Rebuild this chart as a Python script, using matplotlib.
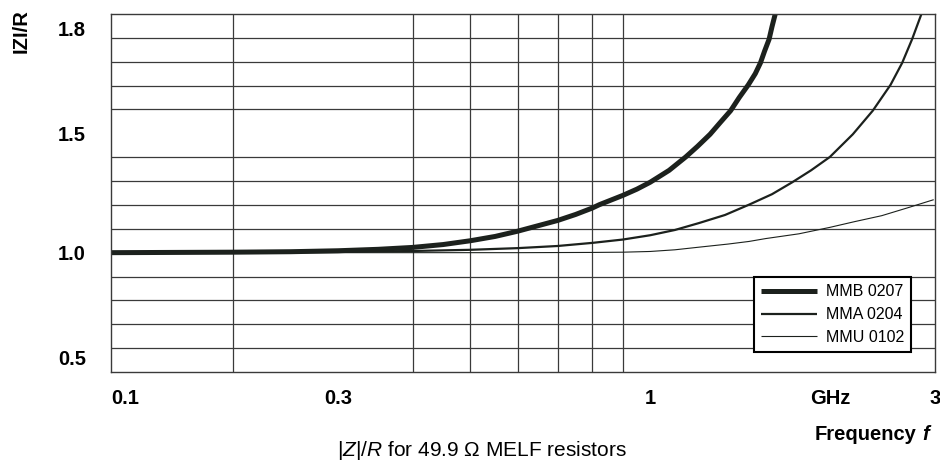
import numpy as np
import matplotlib
matplotlib.use('Agg')
import matplotlib.pyplot as plt

plt.rcParams['font.family'] = ['Liberation Sans', 'DejaVu Sans']
plt.rcParams['mathtext.fontset'] = 'custom'
plt.rcParams['mathtext.rm'] = 'Liberation Sans'
plt.rcParams['mathtext.it'] = 'Liberation Sans:italic'

# frequency in GHz, |Z|/R
mmb_f = [0.125, 0.2, 0.25, 0.3, 0.35, 0.4, 0.45, 0.5, 0.55, 0.6, 0.7, 0.75, 0.8,
         0.822, 0.9, 0.95, 1.0, 1.076, 1.147, 1.2, 1.26, 1.31, 1.364, 1.41,
         1.46, 1.50, 1.53, 1.555, 1.582, 1.60, 1.62]
mmb_z = [1.000, 1.002, 1.004, 1.008, 1.014, 1.022, 1.034, 1.050, 1.068, 1.090,
         1.135, 1.160, 1.187, 1.201, 1.240, 1.266, 1.295, 1.345, 1.401, 1.445,
         1.496, 1.545, 1.595, 1.650, 1.703, 1.750, 1.795, 1.845, 1.894, 1.947,
         2.000]

mma_f = [0.125, 0.3, 0.4, 0.5, 0.6, 0.7, 0.8, 0.9, 1.0, 1.1, 1.207, 1.335,
         1.464, 1.6, 1.73, 1.86, 2.0, 2.185, 2.36, 2.527, 2.643, 2.746, 2.847]
mma_z = [1.000, 1.003, 1.007, 1.012, 1.019, 1.028, 1.041, 1.055, 1.073, 1.095,
         1.124, 1.158, 1.201, 1.245, 1.295, 1.345, 1.401, 1.496, 1.595, 1.703,
         1.795, 1.894, 2.000]

mmu_f = [0.125, 0.6, 0.8, 0.9, 1.0, 1.1, 1.207, 1.35, 1.464, 1.561, 1.775, 2.0,
         2.2, 2.443, 2.7, 2.985]
mmu_z = [1.000, 1.000, 1.001, 1.002, 1.005, 1.012, 1.023, 1.036, 1.047, 1.059,
         1.079, 1.106, 1.130, 1.155, 1.188, 1.222]

series = [('MMB 0207', mmb_f, mmb_z, 3.6),
          ('MMA 0204', mma_f, mma_z, 1.6),
          ('MMU 0102', mmu_f, mmu_z, 0.8)]

x_ticks = [0.125, 0.3, 1, 2, 3]
x_labels = ['0.1', '0.3', '1', 'GHz', '3']
x_grid = [0.2, 0.3, 0.4, 0.5, 0.6, 0.7, 0.8, 0.9, 1, 2]
y_ticks = [0.56, 1.0, 1.5, 1.94]
y_labels = ['0.5', '1.0', '1.5', '1.8']
y_grid = np.arange(0.6, 2.0, 0.1)

line_col = '#1c211d'

fig = plt.figure(figsize=(9.4, 4.63), dpi=100)
ax = fig.add_axes([111 / 940, 1 - 372 / 463, 824 / 940, 358 / 463])

for name, f, z, lw in series:
    ax.plot(f, z, color=line_col, lw=lw, label=name, solid_capstyle='butt',
            solid_joinstyle='round')

ax.set_xscale('log')
ax.set_xlim(0.125, 3)
ax.set_ylim(0.5, 2.0)

ax.set_xticks(x_ticks)
ax.set_xticklabels(x_labels)
ax.xaxis.set_minor_locator(matplotlib.ticker.FixedLocator(x_grid))
ax.xaxis.set_minor_formatter(matplotlib.ticker.NullFormatter())
ax.set_yticks(y_ticks)
ax.set_yticklabels(y_labels)
ax.yaxis.set_minor_locator(matplotlib.ticker.FixedLocator(y_grid))

ax.grid(which='minor', color='#3a3a3a', lw=0.9)
ax.set_axisbelow(True)
ax.tick_params(which='both', length=0)
ax.tick_params(axis='x', pad=12, labelsize=14.5)
ax.tick_params(axis='y', pad=18, labelsize=14.5)
for lab in ax.get_xticklabels() + ax.get_yticklabels():
    lab.set_fontweight('bold')
ax.get_xticklabels()[0].set_ha('left')

for sp in ax.spines.values():
    sp.set_color('#3a3a3a')
    sp.set_linewidth(1.0)

leg = ax.legend(loc='lower right', bbox_to_anchor=(0.971, 0.056), borderaxespad=0,
                fontsize=11.5, handlelength=3.5, handletextpad=0.55, labelspacing=0.48,
                borderpad=0.45, fancybox=False, framealpha=1, edgecolor='black')
leg.get_frame().set_linewidth(1.5)

fig.text(21 / 940, 1 - 31 / 463, 'IZI/R', rotation=90, ha='center', va='center',
         fontweight='bold', fontsize=14.5)
fig.text(926 / 940, 1 - 435 / 463, 'f', ha='center', va='center', fontweight='bold',
         fontstyle='italic', fontsize=14.5)
fig.text(916 / 940, 1 - 435 / 463, 'Frequency', ha='right', va='center',
         fontweight='bold', fontsize=14.5)
fig.text(482 / 940, 1 - 451 / 463, r'$|Z|/R$ for 49.9 Ω MELF resistors',
         ha='center', va='center', fontsize=15)

fig.savefig('out.png', dpi=100)
